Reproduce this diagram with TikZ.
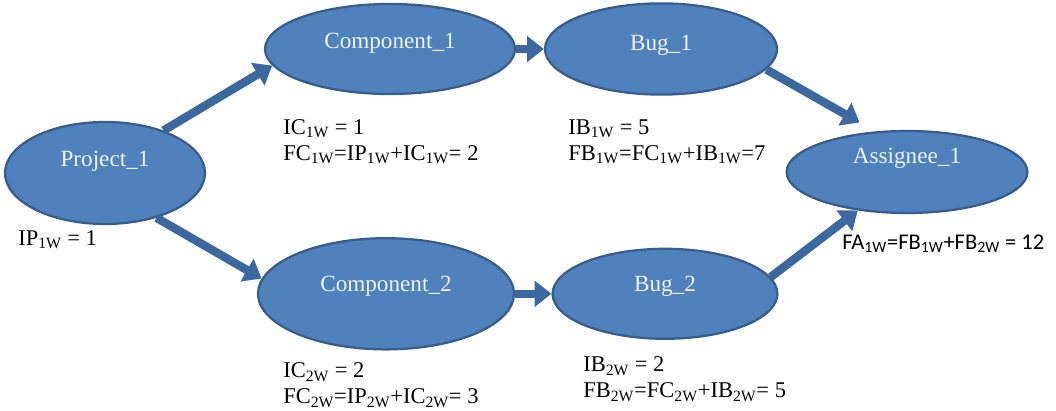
\documentclass[tikz,border=0pt]{standalone}
\usepackage{fontspec}
\setmainfont{Liberation Serif}
\newfontfamily\calibrifont{Carlito}
\usetikzlibrary{shapes.geometric, arrows.meta}

\definecolor{blobfill}{HTML}{4F81BD}
\definecolor{blobline}{HTML}{385D8A}
\definecolor{flow}{HTML}{3C68A0}
\definecolor{blobtext}{HTML}{EEF3FA}

% subscript for the week index, e.g. IC\wk{1}
\newcommand{\wk}[1]{\textsubscript{#1W}}

\begin{document}
\begin{tikzpicture}[
        blob/.style={ellipse, draw=blobline, fill=blobfill, line width=1.6pt, inner sep=0pt},
        tag/.style={text=blobtext, font=\fontsize{16.5}{19}\selectfont},
        flowarrow/.style={draw=flow, line width=6pt, -{Triangle[length=12pt, width=18pt]}},
        note/.style={anchor=north west, inner sep=0pt, align=left, font=\fontsize{16}{18.5}\selectfont}
    ]
        \useasboundingbox (0, 0) rectangle (26.4, 10.275);

        \coordinate (P)  at (2.625, 5.95);
        \coordinate (C1) at (9.75, 9.05);
        \coordinate (B1) at (16.525, 9.05);
        \coordinate (A1) at (22.675, 5.975);
        \coordinate (C2) at (9.65, 2.93);
        \coordinate (B2) at (16.625, 2.93);

        \node[blob, minimum width=5cm, minimum height=2.55cm,
            label={[tag, yshift=0.3cm]center:Project\_1}] (p1) at (P) {};
        \node[blob, minimum width=6.25cm, minimum height=2.25cm,
            label={[tag, yshift=0.15cm]center:Component\_1}] (c1) at (C1) {};
        \node[blob, minimum width=5.8cm, minimum height=2.28cm,
            label={[tag, yshift=0.1cm]center:Bug\_1}] (b1) at (B1) {};
        \node[blob, minimum width=6.02cm, minimum height=2.05cm,
            label={[tag, yshift=0.33cm]center:Assignee\_1}] (a1) at (A1) {};
        \node[blob, minimum width=6.4cm, minimum height=2.78cm,
            label={[tag, yshift=0.2cm]center:Component\_2}] (c2) at (C2) {};
        \node[blob, minimum width=5.62cm, minimum height=2.25cm,
            label={[tag, yshift=0.18cm]center:Bug\_2}] (b2) at (B2) {};

        % arrows between the ellipses
        \draw[flowarrow] (p1.36) -- (c1.188);
        \draw[flowarrow] (c1.east) -- (b1.west);
        \draw[flowarrow, shorten >=0.45cm] (b1.-11) -- (a1.128);
        \draw[flowarrow] (p1.-41) -- (c2.173);
        \draw[flowarrow] (c2.east) -- (b2.west);
        \draw[flowarrow] (b2.9) -- (a1.218);

        % values per week
        \node[note] (ip1) at (0.45, 4.525) {IP\wk{1} = 1};
        \node[note] (ic1) at (7.075, 7.3) {IC\wk{1} = 1\\FC\wk{1}=IP\wk{1}+IC\wk{1}= 2};
        \node[note] (ib1) at (14.2, 7.3) {IB\wk{1} = 5\\FB\wk{1}=FC\wk{1}+IB\wk{1}=7};
        \node[note] (ic2) at (7.075, 1.22) {IC\wk{2} = 2\\FC\wk{2}=IP\wk{2}+IC\wk{2}= 3};
        \node[note] (ib2) at (14.575, 1.37) {IB\wk{2} = 2\\FB\wk{2}=FC\wk{2}+IB\wk{2}= 5};
        \node[note, font=\calibrifont\fontsize{16}{19}\selectfont] (fa1) at (21.05, 4.42)
            {FA\wk{1}=FB\wk{1}+FB\wk{2} = 12};
    \end{tikzpicture}
\end{document}
